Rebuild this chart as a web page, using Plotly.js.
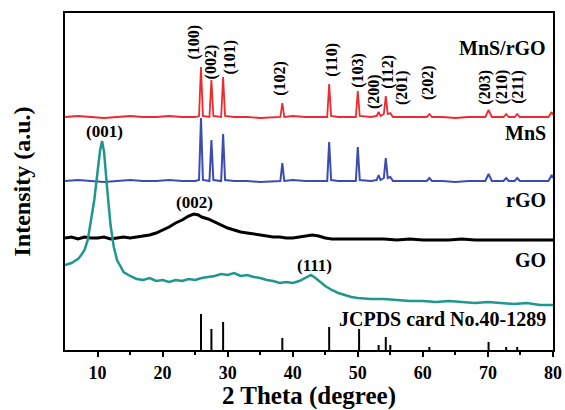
<!DOCTYPE html>
<html>
<head>
<meta charset="utf-8">
<script src="https://cdn.plot.ly/plotly-3.0.1.min.js"></script>
<style>html,body{margin:0;padding:0;background:#fff;}#chart{width:565px;height:410px;}</style>
</head>
<body>
<div id="chart"></div>
<script>
// shared 2θ grid for MnS/rGO and MnS patterns
const xMnS = [5,7,9,11,13,15,17,19,21,23,25,25.6,25.9,26.2,27.2,27.5,27.8,29.0,29.3,29.6,31,33,35,37,38.1,38.4,38.7,40,42,44,45.3,45.6,45.9,47,49,49.7,50.0,50.3,52,52.9,53.2,53.5,54.0,54.3,54.6,55.0,55.4,57,59,60.6,61.0,61.4,63,65,67,69.6,70.1,70.6,72.4,72.8,73.2,74.1,74.5,74.9,77,79.3,79.8,80];
const yMnSrGO = [233,234,233,232,233,234,233,233,234,233,233,234,283,234,233,270,234,233,273,234,233,233,232,233,233,247,233,234,233,233,233,266,234,233,233,233,259,234,233,234,238,234,236,254,236,237,233,233,233,233,236,233,233,232,233,233,240,233,233,236,233,233,236,233,233,233,238,235];
const yMnS = [169,170,169,168,169,170,169,169,170,169,169,170,232,170,169,210,170,169,216,170,169,169,168,169,169,187,169,170,169,169,169,208,170,169,169,169,203,170,169,170,175,170,172,192,172,173,169,169,169,169,172,169,169,168,169,169,176,169,169,172,169,169,172,169,169,169,175,172];

const xRGO = [5,6,7,8,9,10,11,12,13,14,15,16,17,18,19,20,21,22,23,24,24.8,25.5,26,27,28,29,30,31,32,33,34,35,36,37,38,39,40,41,42,43,44,45,46,48,50,52,54,56,58,60,62,64,66,68,70,72,74,76,78,80];
const yRGO = [112,113,111,113,112,112,113,111,112,113,112,113,114,115,117,120,123,127,130,134,136,135,133,131,128,125,122,120,118,117,116,115,114,113,113,112,112,113,114,115,114,112,111,111,111,111,111,110,111,110,110,110,111,110,110,110,110,110,110,110];

const xGO = [5,5.5,6,6.5,7,7.5,8,8.5,9,9.5,10,10.4,10.7,11,11.5,12,12.5,13,13.5,14,15,16,17,18,19,20,21,22,23,24,25,26,27,28,29,30,31,32,33,34,35,36,37,38,39,40,41,42,42.8,43.5,44,45,46,47,48,49,50,52,54,56,58,60,62,64,66,68,70,72,74,76,78,80];
const yGO = [85,86,87,89,91,95,100,110,128,150,178,200,209,198,160,125,103,90,84,78,74,71,70,72,69,70,68,70,69,71,70,72,73,74,76,75,77,74,75,73,72,70,69,67,68,67,69,72,75,72,69,64,60,57,55,53,52,51,51,50,49,49,48,49,48,47,48,47,46,47,45,45];

// JCPDS card No.40-1289 reference lines
const refPos = [25.9,27.5,29.3,38.4,45.6,50.2,53.2,54.3,55.0,61.0,70.1,72.8,74.5];
const refInt = [36,21,28,12,23,21,5,13,5,3,8,3,3];

// Miller index labels
const hklText = ["(100)","(002)","(101)","(102)","(110)","(103)","(200)","(112)","(201)","(202)","(203)","(210)","(211)"];
const hklX = [24.9,27.5,30.3,38.0,46.0,50.0,52.5,54.6,56.8,60.8,69.5,72.2,74.6];
const hklY = [308,288,293,272,290,280,258,278,262,267,263,263,263];

const sampleNames = ["MnS/rGO","MnS","rGO","GO","JCPDS card No.40-1289"];
const sampleLabelY = [302,217,150,90,31];
const otherPeakText = ["(001)","(002)","(111)"];
const otherPeakX = [11.0,24.9,43.4];
const otherPeakY = [219,148,85];

const xTicks = [10,20,30,40,50,60,70,80];

const FONT = "Liberation Serif, Times New Roman, serif";

const stickX = [], stickY = [];
refPos.forEach((p,i)=>{ stickX.push(p,p,null); stickY.push(0,refInt[i],null); });

const traces = [
  {x:xMnS, y:yMnSrGO, mode:'lines', line:{color:'#ee2a2e', width:1.8}, hoverinfo:'skip'},
  {x:xMnS, y:yMnS, mode:'lines', line:{color:'#3d4cb0', width:2}, hoverinfo:'skip'},
  {x:xRGO, y:yRGO, mode:'lines', line:{color:'#000000', width:3}, hoverinfo:'skip'},
  {x:xGO, y:yGO, mode:'lines', line:{color:'#1f978e', width:2.5}, hoverinfo:'skip'},
  {x:stickX, y:stickY, mode:'lines', line:{color:'#000000', width:2}, hoverinfo:'skip'}
];

const ann = [];
hklText.forEach((t,i)=>ann.push({x:hklX[i], y:hklY[i], xref:'x', yref:'y', text:t, showarrow:false, textangle:-90,
  xanchor:'center', yanchor:'middle', font:{family:FONT, size:16, color:'#000', weight:'bold'}}));
sampleNames.forEach((t,i)=>ann.push({x:79.3, y:sampleLabelY[i], xref:'x', yref:'y', text:t, showarrow:false,
  xanchor:'right', yanchor:'middle', font:{family:FONT, size:20, color:'#000', weight:'bold'}}));
otherPeakText.forEach((t,i)=>ann.push({x:otherPeakX[i], y:otherPeakY[i], xref:'x', yref:'y', text:t, showarrow:false,
  xanchor:'center', yanchor:'middle', font:{family:FONT, size:17, color:'#000', weight:'bold'}}));

const layout = {
  width:565, height:410,
  margin:{l:65, r:12, t:13, b:60},
  paper_bgcolor:'#fff', plot_bgcolor:'#fff',
  showlegend:false,
  font:{family:FONT, color:'#000'},
  xaxis:{range:[5,80], tickvals:xTicks, ticks:'outside', ticklen:5, tickwidth:2, tickcolor:'#000',
    showline:true, linewidth:2, linecolor:'#000', mirror:true, showgrid:false, zeroline:false,
    tickfont:{family:FONT, size:18, color:'#000', weight:'bold'},
    minor:{tickvals:[15,25,35,45,55,65,75], ticks:'outside', ticklen:3, tickwidth:2, tickcolor:'#000', showgrid:false},
    title:{text:'2 Theta (degree)', font:{family:FONT, size:25, color:'#000', weight:'bold'}, standoff:4}},
  yaxis:{range:[0,337], showticklabels:false, ticks:'', showline:true, linewidth:2, linecolor:'#000', mirror:true,
    showgrid:false, zeroline:false,
    title:{text:'Intensity (a.u.)', font:{family:FONT, size:24, color:'#000', weight:'bold'}, standoff:26}},
  annotations:ann
};

Plotly.newPlot('chart', traces, layout, {staticPlot:true, displayModeBar:false});
</script>
</body>
</html>
